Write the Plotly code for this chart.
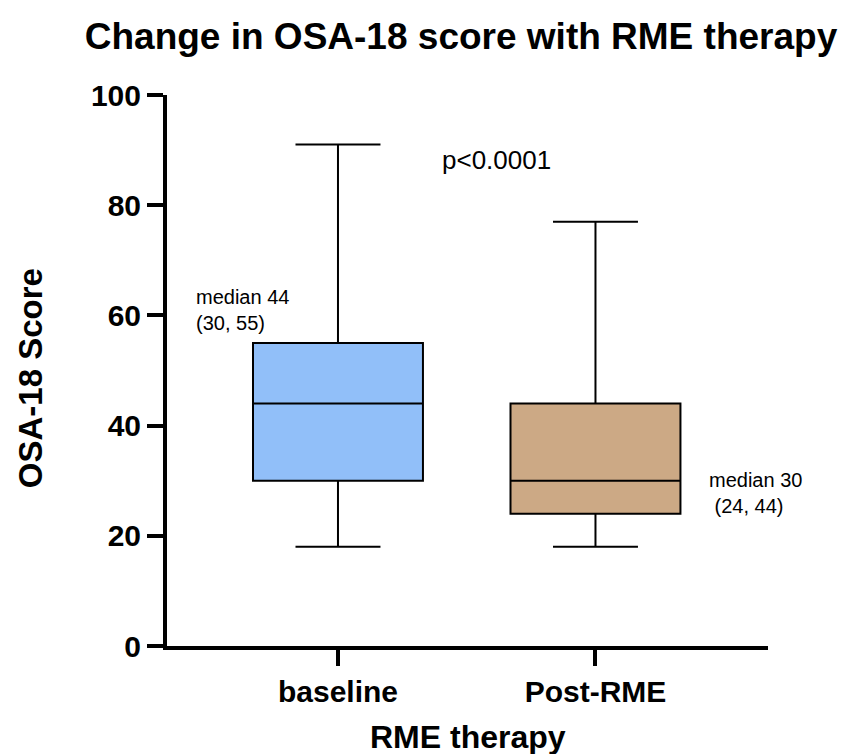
import plotly.graph_objects as go

# Summary statistics for OSA-18 scores
groups = ["baseline", "Post-RME"]
minimum = [18, 18]
q1 = [30, 24]
median = [44, 30]
q3 = [55, 44]
maximum = [91, 77]
fills = ["#91BFF9", "#CCA985"]
notes = ["median 44<br>(30, 55)", "median 30<br> (24, 44)"]
y_ticks = [0, 20, 40, 60, 80, 100]

FONT = "Arial, Liberation Sans, sans-serif"

fig = go.Figure()
for i, g in enumerate(groups):
    fig.add_trace(go.Box(
        x=[i],
        q1=[q1[i]], median=[median[i]], q3=[q3[i]],
        lowerfence=[minimum[i]], upperfence=[maximum[i]],
        fillcolor=fills[i],
        line=dict(color="black", width=2),
        width=0.66,
        whiskerwidth=0.5,
        boxpoints=False,
        hoverinfo="skip",
        name=g,
    ))

fig.add_annotation(x=-0.56, y=65.7, xref="x", yref="y", text=notes[0],
                   showarrow=False, xanchor="left", yanchor="top", align="left",
                   font=dict(family=FONT, size=20, color="black"))
fig.add_annotation(x=1.435, y=32.4, xref="x", yref="y", text=notes[1],
                   showarrow=False, xanchor="left", yanchor="top", align="left",
                   font=dict(family=FONT, size=20, color="black"))
fig.add_annotation(x=0.617, y=88.2, xref="x", yref="y", text="p<0.0001",
                   showarrow=False, xanchor="center", yanchor="middle",
                   font=dict(family=FONT, size=26, color="black"))

# Axis titles
fig.add_annotation(x=0.5, y=-0.165, xref="paper", yref="paper",
                   text="<b>RME therapy</b>", showarrow=False,
                   xanchor="center", yanchor="middle",
                   font=dict(family=FONT, size=32, color="black"))
fig.add_annotation(x=-0.228, y=0.486, xref="paper", yref="paper",
                   text="<b>OSA-18 Score</b>", showarrow=False, textangle=-90,
                   xanchor="center", yanchor="middle",
                   font=dict(family=FONT, size=33, color="black"))

fig.update_layout(
    width=857, height=754,
    margin=dict(l=167, r=89, t=95, b=108),
    paper_bgcolor="white", plot_bgcolor="white",
    showlegend=False,
    title=dict(text="<b>Change in OSA-18 score with RME therapy</b>",
               x=461 / 857, xanchor="center", xref="container",
               y=1 - 36 / 754, yanchor="middle", yref="container",
               font=dict(family=FONT, size=37, color="black")),
    font=dict(family=FONT, color="black"),
)

fig.update_xaxes(
    range=[-0.664, 1.67], automargin=False,
    tickmode="array", tickvals=[0, 1], ticktext=["<b>%s</b>" % g for g in groups],
    ticks="outside", ticklen=16, tickwidth=4, tickcolor="black",
    showline=True, linecolor="black", linewidth=4,
    showgrid=False, zeroline=False,
    tickfont=dict(family=FONT, size=30, color="black"),
)
fig.update_yaxes(
    range=[0, 100], automargin=False,
    tickmode="array", tickvals=y_ticks, ticktext=["<b>%d</b>" % v for v in y_ticks],
    ticks="outside", ticklen=16, tickwidth=4, tickcolor="black",
    showline=True, linecolor="black", linewidth=4,
    showgrid=False, zeroline=False,
    tickfont=dict(family=FONT, size=30, color="black"),
)

fig.write_html("out.html")
